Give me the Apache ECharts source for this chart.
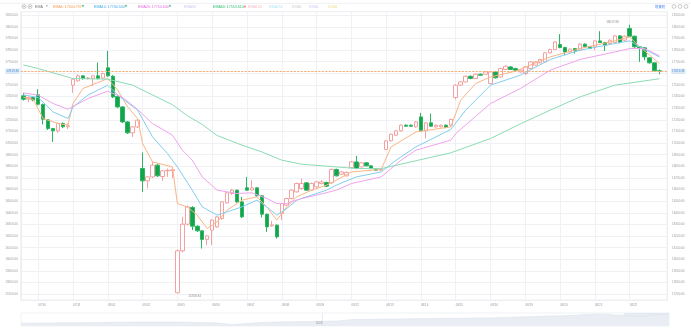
<!DOCTYPE html>
<html><head><meta charset="utf-8">
<script src="https://cdn.jsdelivr.net/npm/echarts@6/dist/echarts.min.js"></script>
<style>html,body{margin:0;padding:0;background:#fff}#c{width:691px;height:328px}</style>
</head><body><div id="c"></div>
<script>
// ---------- data ----------
const days = ['07/29','07/30','07/31','08/01','08/02','08/05','08/06','08/07','08/08','08/09',
  '08/12','08/13','08/14','08/15','08/16','08/19','08/20','08/21','08/22'];
const barsPerDay = 7;
const firstDayStartSlot = 4;

// [open, close, low, high]
const ohlc = [
  // 07/29
  [17406,17377,17365,17430],[17378,17392,17352,17400],[17392,17370,17360,17400],
  // 07/30
  [17415,17334,17325,17462],[17332,17205,17160,17340],[17200,17125,17112,17205],[17125,17105,17010,17130],
  [17105,17168,17088,17175],[17168,17140,17128,17178],[17140,17148,17122,17168],
  // 07/31
  [17498,17549,17432,17556],[17535,17578,17528,17590],[17578,17556,17545,17585],[17555,17560,17548,17568],
  [17556,17578,17490,17582],[17578,17555,17548,17693],[17560,17598,17552,17606],
  // 08/01
  [17647,17578,17570,17793],[17575,17397,17388,17585],[17400,17311,17300,17410],[17311,17182,17172,17318],
  [17182,17088,17078,17190],[17088,17139,17053,17145],[17139,17197,17130,17206],
  // 08/02
  [16781,16675,16580,16919],[16675,16709,16609,16716],[16709,16810,16700,16838],[16810,16718,16708,16822],
  [16712,16761,16675,16768],[16761,16766,16709,16781],[16762,16770,16700,16781],
  // 08/05
  [15712,16073,15708.34,16085],[16073,16302,16060,16365],[16302,16451,16290,16462],[16446,16285,16251,16458],
  [16285,16245,16236,16292],[16245,16171,16093,16250],[16171,16202,16122,16210],
  // 08/06
  [16251,16337,16122,16345],[16279,16365,16272,16372],[16351,16494,16340,16500],[16486,16572,16478,16580],
  [16566,16595,16555,16606],[16595,16494,16488,16600],[16494,16365,16355,16537],
  // 08/07
  [16615,16595,16588,16709],[16596,16615,16590,16681],[16615,16546,16540,16620],[16546,16388,16360,16550],
  [16388,16279,16236,16392],[16288,16296,16279,16330],[16294,16193,16179,16300],
  // 08/08
  [16394,16480,16337,16486],[16466,16523,16460,16530],[16523,16595,16515,16600],[16580,16652,16575,16660],
  [16609,16652,16600,16695],[16658,16595,16590,16665],[16595,16652,16590,16660],
  // 08/09
  [16623,16666,16615,16672],[16652,16666,16645,16680],[16661,16629,16620,16668],[16658,16773,16650,16780],
  [16773,16718,16712,16780],[16732,16752,16725,16760],[16718,16747,16712,16756],
  // 08/12
  [16790,16838,16782,16845],[16838,16781,16775,16890],[16795,16830,16790,16838],[16830,16804,16798,16836],
  [16804,16781,16775,16810],[16775,16767,16760,16780],[16768,16772,16758,16780],
  // 08/13
  [16945,17019,16940,17025],[17019,17076,17012,17082],[17068,17105,17060,17112],[17105,17154,17098,17160],
  [17154,17145,17140,17160],[17154,17145,17138,17160],[17139,17182,17132,17188],
  // 08/14
  [17225,17105,17100,17260],[17105,17174,17039,17180],[17174,17145,17140,17254],[17139,17154,17132,17160],
  [17140,17154,17135,17160],[17154,17134,17128,17160],[17154,17203,17148,17210],
  // 08/15
  [17392,17498,17375,17505],[17498,17526,17490,17532],[17526,17575,17520,17582],[17575,17555,17550,17582],
  [17555,17592,17550,17598],[17592,17584,17578,17598],[17592,17612,17585,17618],
  // 08/16
  [17512,17612,17505,17620],[17612,17561,17555,17618],[17569,17641,17562,17648],[17633,17661,17628,17668],
  [17655,17633,17628,17662],[17641,17627,17620,17648],[17612,17627,17605,17632],
  // 08/19
  [17598,17655,17584,17660],[17641,17698,17635,17705],[17670,17698,17665,17705],[17690,17719,17685,17725],
  [17698,17776,17692,17782],[17776,17805,17770,17812],[17805,17870,17800,17876],
  // 08/20
  [17848,17822,17815,17937],[17822,17784,17756,17828],[17784,17808,17778,17815],[17813,17793,17770,17818],
  [17799,17851,17792,17858],[17851,17828,17822,17858],[17828,17813,17808,17834],
  // 08/21
  [17828,17879,17799,17885],[17879,17865,17860,17962],[17865,17842,17793,17870],[17856,17885,17850,17890],
  [17865,17922,17858,17928],[17922,17865,17858,17928],[17885,17919,17878,17925],
  // 08/22
  [17985,17919,17912,18017.69],[17919,17828,17820,17925],[17828,17813,17698,17835],[17819,17741,17713,17825],
  [17733,17690,17683,17740],[17690,17621,17612,17695],[17621,17619.36,17592,17633]
];

// EMA readings: [bar index, value]
const ema5 = [[0,17395],[2,17375],[4,17211],[7,17168],[9,17154],[10,17340],[12,17469],[17,17555],[19,17455],
  [21,17311],[23,17211],[24,16996],[26,16838],[30,16795],[31,16480],[33,16451],[35,16380],[37,16265],[39,16322],
  [41,16423],[44,16509],[47,16537],[49,16451],[51,16337],[53,16451],[55,16537],[58,16595],[61,16638],[63,16681],
  [66,16752],[72,16773],[74,16967],[79,17096],[86,17139],[88,17369],[91,17512],[94,17569],[99,17618],[106,17741],
  [112,17813],[119,17879],[122,17913],[124,17828],[128,17684]];
const ema10 = [[0,17415],[3,17392],[6,17268],[9,17211],[10,17311],[13,17412],[17,17498],[19,17412],[23,17283],
  [26,17053],[29,16910],[31,16795],[34,16595],[36,16451],[39,16380],[41,16408],[44,16451],[47,16509],[49,16451],
  [51,16380],[53,16437],[55,16509],[58,16552],[61,16595],[63,16638],[67,16709],[72,16752],[75,16853],[79,16967],
  [86,17117],[89,17283],[94,17498],[100,17584],[106,17719],[112,17799],[119,17856],[122,17879],[124,17828],[128,17740.504]];
const ema20 = [[0,17432],[3,17412],[6,17340],[9,17291],[13,17383],[17,17446],[20,17392],[23,17289],[26,17168],
  [30,17068],[32,16939],[34,16853],[36,16709],[39,16595],[43,16566],[46,16572],[49,16523],[51,16480],[53,16480],
  [56,16523],[59,16552],[63,16595],[66,16652],[72,16709],[76,16853],[79,16939],[86,17025],[87,17082],[94,17340],
  [100,17469],[106,17627],[112,17719],[119,17784],[122,17813],[125,17813],[128,17750.64]];
const ema60 = [[0,17672],[3,17641],[10,17555],[17,17550],[22,17498],[30,17330],[33,17235],[36,17160],[39,17065],
  [44,16982],[48,16924],[52,16853],[56,16818],[63,16795],[67,16781],[72,16780],[86,16916],[94,17039],[100,17165],
  [106,17283],[112,17397],[119,17498],[126,17541],[128,17553.614]];

const yTicks = [15700,15800,15900,16000,16100,16200,16300,16400,16500,16600,16700,16800,16900,17000,
  17100,17200,17300,17400,17500,17600,17700,17800,17900,18000,18100];

const legendNames  = ['EMA5','EMA10','EMA20','EMA30','EMA60','EMA120','EMA250','EMA1','EMA1','EMA1'];
const legendValues = ['17600.797','17740.504','17750.640','','17553.614','','','','',''];
const legendTrend  = ['down','down','down','','up','','','','',''];

// overview (slider) history
const history = [14945,14980,15050,15120,15155,15225,15295,15330,15400,15400,15400,15330,15225,15050,14525,
  14875,15225,15400,15470,15575,15645,15750,16275,16275,16450,16450,16520,16625,16695,16695,16800,16800,16975,
  17150,17325,17500,17570,17850,18200,18025,17675,17150,17850,18200];
const historyYearIndex = 20;
const historyYearLabel = '2024';
const historyWindowStart = 40;

// ---------- build ----------
const cats = [];
days.forEach((d, di) => {
  for (let s = (di === 0 ? firstDayStartSlot : 0); s < barsPerDay; s++) cats.push(d + ' ' + s);
});
cats.push(' ');
const isDayStart = (idx, val) => typeof val === 'string' && val.endsWith(' 0');

const toLine = arr => arr.map(p => [cats[p[0]], p[1]]);
const last = ohlc[ohlc.length - 1][1];
let hiI = 0, loI = 0;
ohlc.forEach((d, i) => { if (d[3] > ohlc[hiI][3]) hiI = i; if (d[2] < ohlc[loI][2]) loI = i; });

const FONT = 'Liberation Sans, Arial, sans-serif';
const AX = 3;
const legendX = [53,94,138,184,213,248,269,292,309,328];
const legendColors = ['#f59a55','#3ea7e4','#e06ade','#cbc8ef','#2fbd73','#f6b9c9','#b7e6f1','#d2d2d2','#d9cdf2','#f1e1a3'];

const graphics = [];
legendNames.forEach((n, i) => {
  const txt = legendValues[i] ? n + ': ' + legendValues[i] : n;
  graphics.push({type:'text', x: legendX[i], y: 6.5, silent:true,
    style:{text: txt, fill: legendColors[i], fontSize: 3.6, fontFamily: FONT, verticalAlign:'middle'}});
  if (legendTrend[i]) {
    const w = echarts.format.getTextRect ? 0 : 0;
    graphics.push({type:'text', x: legendX[i] + txt.length * 1.93, y: 6.5, silent:true,
      style:{text: legendTrend[i] === 'down' ? '▼' : '▲', fill: legendTrend[i] === 'down' ? '#19a64b' : '#f04545',
        fontSize: 2.6, fontFamily:'DejaVu Sans', verticalAlign:'middle'}});
  }
});
graphics.push(
  {type:'circle', shape:{cx:24, cy:6.5, r:2}, style:{fill:'none', stroke:'#aaa', lineWidth:0.6}},
  {type:'circle', shape:{cx:24, cy:6.5, r:0.8}, style:{fill:'#aaa'}},
  {type:'circle', shape:{cx:30, cy:6.5, r:2}, style:{fill:'none', stroke:'#aaa', lineWidth:0.6}},
  {type:'circle', shape:{cx:30, cy:6.5, r:0.8}, style:{fill:'#aaa'}},
  {type:'text', x:35, y:6.5, style:{text:'EMA', fill:'#777', fontSize:3.6, fontFamily:FONT, verticalAlign:'middle'}},
  {type:'text', x:46, y:6.5, style:{text:'▾', fill:'#999', fontSize:3.6, fontFamily:'DejaVu Sans', verticalAlign:'middle'}},
  {type:'text', x:655, y:6.5, style:{text:'前复权', fill:'#3b7ff0', fontSize:3.4, fontFamily:'Noto Sans CJK SC', verticalAlign:'middle'}},
  {type:'circle', shape:{cx:674, cy:6.5, r:1.9}, style:{fill:'none', stroke:'#aaa', lineWidth:0.6}},
  {type:'circle', shape:{cx:680, cy:6.5, r:1.9}, style:{fill:'none', stroke:'#aaa', lineWidth:0.6}},
  {type:'circle', shape:{cx:686, cy:6.5, r:1.9}, style:{fill:'none', stroke:'#aaa', lineWidth:0.6}},
  {type:'line', shape:{x1:0, y1:3.3, x2:691, y2:3.3}, style:{stroke:'#eef0f3', lineWidth:1}}
);

const yAxisBase = (pos) => ({
  type:'value', position: pos, min:15650, max:18130, gridIndex:0,
  axisLine:{show:true, lineStyle:{color:'#eceef1'}},
  axisTick:{show:false, customValues: yTicks},
  axisLabel:{customValues: yTicks, formatter: v => v.toFixed(2), fontSize: AX, color:'#9a9a9a', margin: pos === 'left' ? 3 : 5, fontFamily: FONT},
  splitLine:{show: pos === 'left', lineStyle:{color:'#f0f1f4', width:1}}
});

const lineSeries = (name, data, color) => ({
  name, type:'line', data: toLine(data), xAxisIndex:0, yAxisIndex:0, symbol:'none', smooth:false,
  lineStyle:{color, width:1}, silent:true, z:3
});

const option = {
  animation:false,
  backgroundColor:'#fff',
  graphic: graphics,
  grid:[
    {left:20.8, right:24, top:11.7, bottom:28, show:true, borderColor:'#eceef1', borderWidth:1},
    {left:21, right:22, top:313, height:13, show:true, borderColor:'#e6e9ee', borderWidth:0.6}
  ],
  xAxis:[
    {type:'category', data:cats, gridIndex:0, boundaryGap:true,
      axisLine:{show:true, lineStyle:{color:'#eceef1'}}, axisTick:{show:false},
      axisLabel:{interval: isDayStart, formatter: v => v.split(' ')[0], fontSize:AX, color:'#9a9a9a', align:'left', margin:3.5, fontFamily:FONT},
      splitLine:{show:true, interval: isDayStart, alignWithLabel:true, lineStyle:{color:'#f0f1f4', width:1}}},
    {type:'category', data: history.map((v,i)=>String(i)), gridIndex:1, boundaryGap:false, show:false}
  ],
  yAxis:[
    yAxisBase('left'),
    yAxisBase('right'),
    {type:'value', gridIndex:1, min:14000, max:18550, show:false, splitLine:{show:false}}
  ],
  series:[
    {name:'K', type:'candlestick', data: ohlc, xAxisIndex:0, yAxisIndex:0, barWidth:4, z:2,
      itemStyle:{color:'#ffffff', color0:'#12a44b', borderColor:'#f3a1a1', borderColor0:'#2eb562', borderWidth:1},
      markLine:{symbol:'none', silent:true, animation:false,
        lineStyle:{color:'#f7b17c', type:[2,1.5], width:1},
        label:{formatter: p => p.value.toFixed(2), fontSize:AX, color:'#4f86c6', backgroundColor:'#dcebfa', padding:[1,1], fontFamily:FONT},
        data:[{yAxis:last, label:{position:'start', distance:1}}, {yAxis:last, label:{position:'end', distance:4}}]},
      markPoint:{symbol:'circle', symbolSize:0, silent:true, animation:false,
        label:{fontSize:AX, color:'#888', fontFamily:FONT},
        data:[
          {coord:[cats[hiI], ohlc[hiI][3]], value: ohlc[hiI][3], label:{formatter: ohlc[hiI][3].toFixed(2), position:'left', distance:11, offset:[0,-3]}},
          {coord:[cats[loI], ohlc[loI][2]], value: ohlc[loI][2], label:{formatter: ohlc[loI][2].toFixed(2), position:'right', distance:11, offset:[0,2.7]}}
        ]}
    },
    lineSeries('EMA5', ema5, '#f9b586'),
    lineSeries('EMA10', ema10, '#84cdee'),
    lineSeries('EMA20', ema20, '#f0a3ee'),
    lineSeries('EMA60', ema60, '#8ddbb3'),
    {name:'overview', type:'line', data: history, xAxisIndex:1, yAxisIndex:2, symbol:'none', silent:true,
      lineStyle:{color:'#dde3ec', width:0.6}, areaStyle:{color:'#eaeef4', opacity:1},
      markArea:{silent:true, itemStyle:{color:'rgba(190,202,220,0.35)'},
        data:[[{xAxis:String(historyWindowStart)}, {xAxis:String(history.length-1)}]]},
      markLine:{symbol:'none', silent:true, lineStyle:{color:'#d9dee6', type:'solid', width:0.6},
        label:{show:false}, data:[{xAxis:String(historyYearIndex)}]},
      markPoint:{symbol:'circle', symbolSize:0, silent:true,
        label:{formatter: historyYearLabel, fontSize:AX, color:'#999', position:'left', distance:0, fontFamily:FONT},
        data:[{coord:[String(historyYearIndex), 15050]}]}
    }
  ]
};
const chart = echarts.init(document.getElementById('c'));
chart.setOption(option);
</script>
</body></html>
